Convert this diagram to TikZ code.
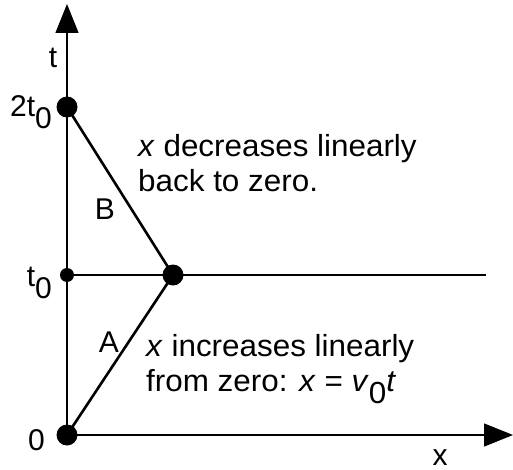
\documentclass[tikz,border=0pt]{standalone}
\usepackage{fontspec}
\setmainfont{Liberation Sans}
\usetikzlibrary{arrows.meta}
\tikzset{
  bigdot/.style={circle,fill=black,inner sep=0pt,minimum size=21pt},
  smalldot/.style={circle,fill=black,inner sep=0pt,minimum size=14pt},
  axisline/.style={line width=1.4pt,-{Triangle[width=23pt,length=29pt]}},
  thinline/.style={line width=1.4pt},
  pathline/.style={line width=2.6pt},
  lbl/.style={inner sep=0pt,font=\fontsize{30}{35}\selectfont},
  desc/.style={inner sep=0pt,align=left,anchor=north west,xscale=1.03,font=\fontsize{30.5}{35}\selectfont}
}
\newcommand{\subz}{\raisebox{-12pt}{0}}
\begin{document}
\begin{tikzpicture}[x=1pt,y=-1pt]
\useasboundingbox (0,0) rectangle (513,470);
\coordinate (ttip) at (67,4);
\coordinate (xtip) at (513,435);
\coordinate (hend) at (486,275);
\node[bigdot] (p0) at (67,435) {};
\node[smalldot] (pt) at (67,275) {};
\node[bigdot] (p2) at (67,107) {};
\node[bigdot] (pm) at (173,275) {};
\draw[axisline] (p0.center) -- (ttip);
\draw[axisline] (p0.center) -- (xtip);
\draw[thinline] (pt.center) -- (hend);
\draw[pathline] (p0.center) -- (pm.center);
\draw[pathline] (p2.center) -- (pm.center);
\node[lbl,anchor=base] (tl) at (53,68) {t};
\node[lbl,anchor=base east] (l2t) at (52,117) {2t\subz};
\node[lbl,anchor=base east] (lt) at (52,286) {t\subz};
\node[lbl,anchor=base east] (l0) at (45,450) {0};
\node[lbl,anchor=base] (xl) at (440,465) {x};
\node[lbl,anchor=base] (lB) at (105,219) {B};
\node[lbl,anchor=base] (lA) at (109,352) {A};
\node[desc] (dB) at (138,134) {\textit{x} decreases linearly\\back to zero.};
\node[desc] (dA) at (146,334) {\textit{x} increases linearly\\from zero: \textit{x} = \textit{v}\subz\textit{t}};
\end{tikzpicture}
\end{document}
